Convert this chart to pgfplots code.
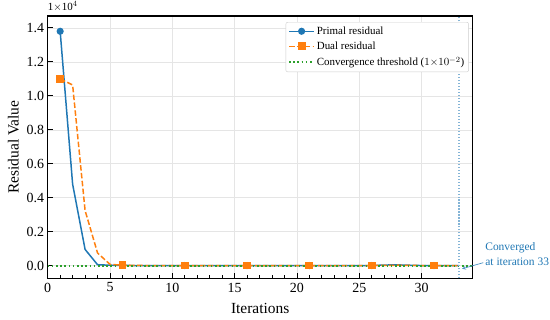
\documentclass[border=0pt]{standalone}
\usepackage{pgfplots}
\pgfplotsset{compat=1.18}
\usepackage{fontspec}
\setmainfont{Liberation Serif}
\definecolor{cblue}{HTML}{1F77B4}
\definecolor{corange}{HTML}{FF7F0E}
\definecolor{cgreen}{HTML}{2CA02C}
\pgfplotstableread{
x p d
1 1.38 1.10
2 0.48 1.064
3 0.096 0.325
4 0.006 0.075
5 0.003 0.008
6 0.002 0.003
7 0.001 0.002
8 0.001 0.001
9 0.001 0.001
10 0.001 0.001
11 0.001 0.001
12 0.001 0.001
13 0.001 0.001
14 0.001 0.001
15 0.001 0.001
16 0.001 0.001
17 0.001 0.001
18 0.001 0.001
19 0.001 0.001
20 0.001 0.001
21 0.001 0.001
22 0.001 0.001
23 0.001 0.001
24 0.001 0.001
25 0.001 0.001
26 0.001 0.001
27 0.004 0.002
28 0.005 0.003
29 0.003 0.002
30 0.001 0.001
31 0.001 0.001
32 0.0005 0.0005
33 0.0002 0.0002
}\datatab
\begin{document}
\begin{tikzpicture}
\path[use as bounding box] (-47.7bp,-41.7bp) rectangle (502.3bp,278.3bp);
\begin{axis}[
  scale only axis, width=425bp, height=262.3bp,
  xmin=0, xmax=34.1, ymin=-0.074, ymax=1.47,
  xtick={0,5,...,30}, ytick={0,0.2,...,1.4},
  minor x tick num=4,
  yticklabel style={/pgf/number format/.cd,fixed,fixed zerofill,precision=1},
  /pgf/number format/assume math mode=true,
  tick label style={font=\fontsize{14}{15}\selectfont},
  xticklabel style={yshift=-1bp},
  tick align=inside, xtick pos=bottom, ytick pos=left,
  major tick length=5bp, minor tick length=3bp,
  every tick/.style={black, line width=0.8pt},
  axis line style={black, line width=1.2pt},
  grid=major, major grid style={gray!20, line width=0.6pt},
  xlabel={Iterations}, ylabel={Residual Value},
  label style={font=\fontsize{15.5}{16}\selectfont},
  xlabel style={yshift=-4bp},
  ylabel style={yshift=1bp},
  legend cell align=left,
  legend style={at={(rel axis cs:0.991,0.977)}, anchor=north east,
    font=\fontsize{11}{12}\selectfont, draw=gray!40, rounded corners=2pt,
    row sep=2pt, inner sep=2.5pt},
  legend image code/.code={
    \draw[#1] (0cm,0cm) -- (0.88cm,0cm);
    \draw[#1, mark repeat=2, mark phase=2] plot coordinates {(0cm,0cm) (0.44cm,0cm) (0.88cm,0cm)};},
  clip=false,
]
\addplot[cblue, line width=1.5pt, mark=*, mark size=2.8pt, mark repeat=5, mark phase=1] table[x=x,y=p]{\datatab};
\addlegendentry{Primal residual}
\addplot[corange, line width=1.5pt, dash pattern=on 5.5pt off 2.4pt, mark=square*, mark size=3.2pt, mark repeat=5, mark phase=1, mark options={solid}] table[x=x,y=d]{\datatab};
\addlegendentry{Dual residual}
\addplot[cgreen, line width=1.6pt, dash pattern=on 1.6pt off 2.6pt, mark=none] coordinates {(0,0) (34.1,0)};
\addlegendentry{Convergence threshold ($1{\times}10^{-2}$)}
\draw[cblue!55, line width=1.1pt, dash pattern=on 1.1pt off 1.9pt] (axis cs:33,-0.074) -- (axis cs:33,1.47);
\node[anchor=south west, font=\fontsize{11}{12}\selectfont, inner sep=0pt] at (rel axis cs:0,1.015) {1$\times$10$^{4}$};
\node[cblue, anchor=base west, font=\fontsize{11.5}{12}\selectfont, inner sep=0pt] at (axis cs:35.1,0.0875) {Converged};
\node[cblue, anchor=base west, font=\fontsize{11.5}{12}\selectfont, inner sep=0pt] at (axis cs:35.1,0.004) {at iteration 33};
\draw[cblue!80, -stealth, line width=0.7pt] (axis cs:34.95,0.018) -- (axis cs:33.25,-0.018);
\end{axis}
\end{tikzpicture}
\end{document}
